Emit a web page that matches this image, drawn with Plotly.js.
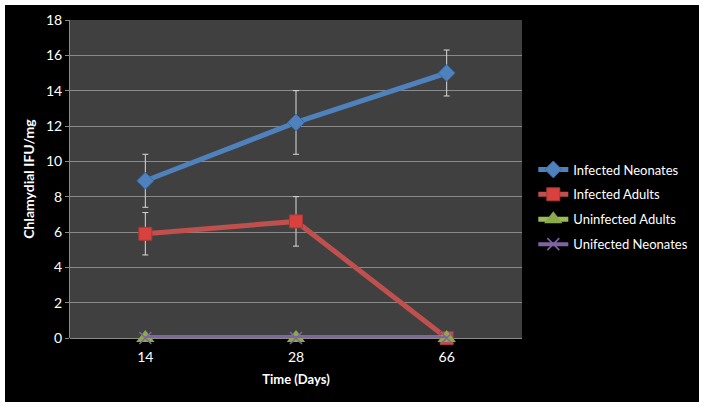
<!DOCTYPE html>
<html><head><meta charset="utf-8">
<script src="https://cdn.plot.ly/plotly-3.0.1.min.js"></script>
<style>
html,body{margin:0;padding:0;background:#fff;width:704px;height:407px;overflow:hidden}
#chart{position:absolute;left:5px;top:5px;width:694px;height:397px}
</style></head>
<body><div id="chart"></div>
<script>
const categories = ['14', '28', '66'];
const infectedNeonates = [8.9, 12.2, 15.0];
const infectedNeonatesErr = [1.5, 1.8, 1.3];
const infectedAdults = [5.9, 6.6, 0];
const infectedAdultsErr = [1.2, 1.4, 0];
const uninfectedAdults = [0, 0, 0];
const unifectedNeonates = [0, 0, 0];
const seriesNames = ['Infected Neonates', 'Infected Adults', 'Uninfected Adults', 'Unifected Neonates'];

const errStyle = {type: 'data', visible: true, color: '#d9d9d9', thickness: 1, width: 3};
const traces = [
  {x: categories, y: infectedNeonates, name: seriesNames[0], legendgroup: 'a', type: 'scatter', mode: 'lines+markers', cliponaxis: false,
   line: {color: '#4F81BD', width: 5}, marker: {symbol: 'diamond', size: 13, color: '#4F81BD', line: {color: '#3a6aa8', width: 1}},
   error_y: Object.assign({array: infectedNeonatesErr}, errStyle)},
  {x: categories, y: infectedAdults, name: seriesNames[1], legendgroup: 'b', type: 'scatter', mode: 'lines+markers', cliponaxis: false,
   line: {color: '#C0504D', width: 5}, marker: {symbol: 'square', size: 13, color: '#D9413E', line: {color: '#a33b38', width: 1}},
   error_y: Object.assign({array: infectedAdultsErr}, errStyle)},
  {x: categories, y: uninfectedAdults, name: seriesNames[2], legendgroup: 'c', type: 'scatter', mode: 'lines+markers', cliponaxis: false,
   line: {color: '#9BBB59', width: 5}, marker: {symbol: 'triangle-up', size: 16, color: '#8bab4a'}},
  {x: categories, y: unifectedNeonates, name: seriesNames[3], legendgroup: 'd', type: 'scatter', mode: 'lines+markers', cliponaxis: false,
   line: {color: '#8064A2', width: 4}, marker: {symbol: 'x-thin', size: 12, color: '#8064A2', line: {color: '#8064A2', width: 1.5}}}
];

const layout = {
  width: 694, height: 397,
  paper_bgcolor: '#000', plot_bgcolor: '#404040',
  margin: {l: 65, r: 177, t: 15, b: 64, autoexpand: false},
  font: {family: 'Lato, "Open Sans", sans-serif', color: '#ffffff', size: 14},
  showlegend: true,
  legend: {x: 1.025, y: 0.412, xanchor: 'left', yanchor: 'middle', bgcolor: 'rgba(0,0,0,0)',
           font: {size: 13, color: '#ffffff'}, tracegroupgap: 5, itemwidth: 30},
  xaxis: {type: 'category', range: [-0.5, 2.5], showgrid: false, zeroline: false, showline: false,
          ticks: 'outside', ticklen: 6, tickcolor: 'rgba(0,0,0,0)', tickfont: {size: 14, color: '#ffffff'},
          title: {text: '<b>Time (Days)</b>', font: {size: 13, color: '#ffffff'}, standoff: 11}},
  yaxis: {range: [0, 18], dtick: 2, showgrid: true, gridcolor: '#8a8a8a', gridwidth: 1,
          zeroline: true, zerolinecolor: '#8a8a8a', showline: true, linecolor: '#8a8a8a',
          ticks: 'outside', ticklen: 4, tickcolor: '#8a8a8a', tickfont: {size: 14, color: '#ffffff'},
          title: {text: '<b>Chlamydial IFU/mg</b>', font: {size: 14, color: '#ffffff'}, standoff: 8}}
};
Plotly.newPlot('chart', traces, layout, {displayModeBar: false, staticPlot: true});
</script></body></html>
